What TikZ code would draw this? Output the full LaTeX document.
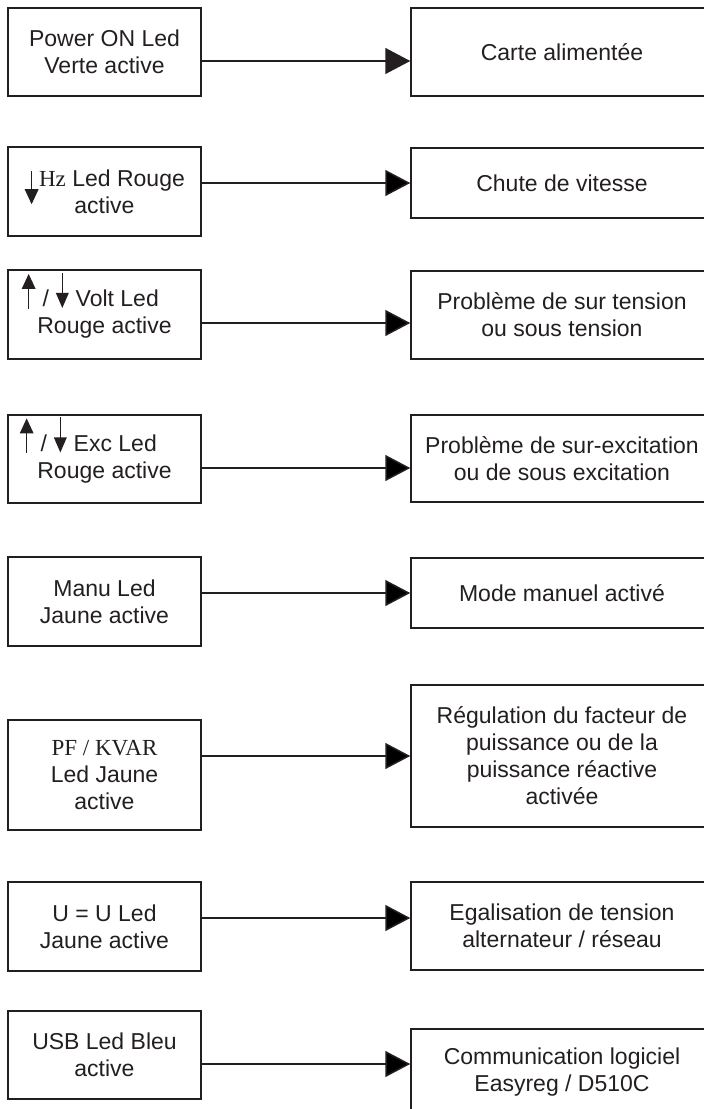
\documentclass[tikz,border=0pt]{standalone}
\usepackage{fontspec}
\setmainfont{Liberation Sans}
\newfontfamily\serifhz{Liberation Serif}
\usetikzlibrary{arrows.meta}
\definecolor{ink}{HTML}{231F20}
% small inline arrows drawn next to the labels
\newcommand{\upar}{\tikz[baseline=0pt,x=1pt,y=1pt]{\useasboundingbox (0,0) rectangle (15,16);
  \fill[ink] (7.5,33) -- (0.5,18) -- (14.5,18) -- cycle;
  \draw[ink,line width=1.3pt] (7.5,19) -- (7.5,-2);}}
\newcommand{\dnar}{\tikz[baseline=0pt,x=1pt,y=1pt]{\useasboundingbox (0,0) rectangle (14,16);
  \fill[ink] (7,-1) -- (0.5,14) -- (13.5,14) -- cycle;
  \draw[ink,line width=1.3pt] (7,13) -- (7,34);}}
\newcommand{\hzar}{\tikz[baseline=0pt,x=1pt,y=1pt]{\useasboundingbox (0,0) rectangle (15,16);
  \fill[ink] (7.5,-18) -- (0.5,-3) -- (14.5,-3) -- cycle;
  \draw[ink,line width=1.3pt] (7.5,-4) -- (7.5,15);}}
\begin{document}
\begin{tikzpicture}[x=1pt,y=-1pt,
  lbox/.style={draw=ink, line width=1.5pt, minimum width=193pt, inner sep=0pt,
    align=center, text=ink, font=\fontsize{23}{27}\selectfont},
  rbox/.style={lbox, minimum width=302pt},
  conn/.style={draw=ink, line width=1.5pt, -{Triangle[length=25pt,width=26pt]}}]
\useasboundingbox (0,0) rectangle (704,1109);

\node[lbox, minimum height=88pt] (L1) at (104.5,52) {Power ON Led\\Verte active};
\node[rbox, minimum height=88pt] (R1) at (562,52) {Carte alimentée};
\draw[conn] (L1.east |- 0,61) -- (R1.west |- 0,61);

\node[lbox, minimum height=89pt] (L2) at (104.5,191.5) {\hzar{\serifhz Hz} Led Rouge\\active};
\node[rbox, minimum height=70pt] (R2) at (562,183) {Chute de vitesse};
\draw[conn] (L2.east |- 0,183) -- (R2.west |- 0,183);

\node[lbox, minimum height=89pt] (L3) at (104.5,314.5) {\upar{} / \dnar{} Volt Led\hspace*{29pt}\\Rouge active};
\node[rbox, minimum height=88pt] (R3) at (562,315) {Problème de sur tension\\ou sous tension};
\draw[conn] (L3.east |- 0,323) -- (R3.west |- 0,323);

\node[lbox, minimum height=88pt] (L4) at (104.5,459) {\upar{} / \dnar{} Exc Led\hspace*{33pt}\\Rouge active};
\node[rbox, minimum height=87pt] (R4) at (562,458.5) {Problème de sur-excitation\\ou de sous excitation};
\draw[conn] (L4.east |- 0,468) -- (R4.west |- 0,468);

\node[lbox, minimum height=89pt] (L5) at (104.5,601.5) {Manu Led\\Jaune active};
\node[rbox, minimum height=70pt] (R5) at (562,593) {Mode manuel activé};
\draw[conn] (L5.east |- 0,593) -- (R5.west |- 0,593);

\node[lbox, minimum height=110pt] (L6) at (104.5,775) {{\serifhz PF / KVAR}\\Led Jaune\\active};
\node[rbox, minimum height=142pt] (R6) at (562,756) {Régulation du facteur de\\puissance ou de la\\puissance réactive\\activée};
\draw[conn] (L6.east |- 0,756) -- (R6.west |- 0,756);

\node[lbox, minimum height=89pt] (L7) at (104.5,926.5) {U = U Led\\Jaune active};
\node[rbox, minimum height=88pt] (R7) at (562,926) {Egalisation de tension\\alternateur / réseau};
\draw[conn] (L7.east |- 0,918) -- (R7.west |- 0,918);

\node[lbox, minimum height=88pt] (L8) at (104.5,1055) {USB Led Bleu\\active};
\node[rbox, minimum height=86pt] (R8) at (562,1072) {Communication logiciel\\Easyreg / D510C};
\draw[conn] (L8.east |- 0,1064) -- (R8.west |- 0,1064);
\end{tikzpicture}
\end{document}
